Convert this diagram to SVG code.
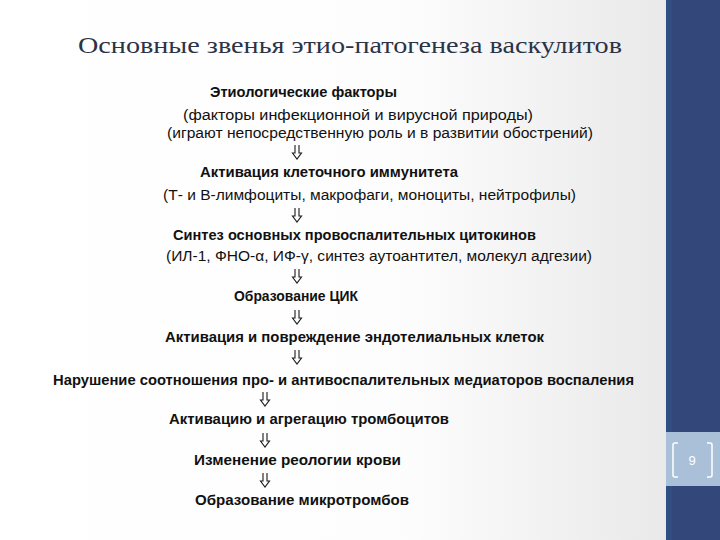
<svg xmlns="http://www.w3.org/2000/svg" width="720" height="540" viewBox="0 0 720 540">
<defs>
<linearGradient id="bg" x1="0" y1="0" x2="1" y2="0">
<stop offset="0" stop-color="#ffffff"/>
<stop offset="0.6" stop-color="#fdfdfd"/>
<stop offset="1" stop-color="#e9e9ea"/>
</linearGradient>
<style>
.t{font-family:"Liberation Sans",Arial,sans-serif;font-size:14px;fill:#111;}
.b{font-weight:bold;}
.title{font-family:"Liberation Serif","Times New Roman",serif;font-size:24px;fill:#2b3347;}
.arr{fill:none;stroke:#1a1a1a;stroke-width:1.1;}
</style>
</defs>
<rect x="0" y="0" width="666" height="540" fill="url(#bg)"/>
<rect x="666" y="0" width="54" height="540" fill="#34477a"/>
<rect x="666" y="0" width="6" height="540" fill="#2f4f82"/>
<rect x="666" y="432" width="54" height="54" fill="#a9c0d8"/>
<path d="M678,443 h-3 q-2,0 -2,2 v30 q0,2 2,2 h3 M707,443 h3 q2,0 2,2 v30 q0,2 -2,2 h-3" fill="none" stroke="#ffffff" stroke-width="1.5"/>
<text x="692" y="465" text-anchor="middle" style="font-family:'Liberation Sans',Arial,sans-serif;font-size:13px;fill:#ffffff">9</text>

<text id="title" class="title" x="78" y="53" textLength="544" lengthAdjust="spacingAndGlyphs">Основные звенья этио-патогенеза васкулитов</text>

<g id="n1">
<text class="t b" x="210" y="97" textLength="187" lengthAdjust="spacingAndGlyphs">Этиологические факторы</text>
<text class="t" x="183" y="120" textLength="350" lengthAdjust="spacingAndGlyphs">(факторы инфекционной и вирусной природы)</text>
<text class="t" x="167" y="138" textLength="426" lengthAdjust="spacingAndGlyphs">(играют непосредственную роль и в развитии обострений)</text>
</g>
<g id="n2">
<text class="t b" x="200" y="177" textLength="258" lengthAdjust="spacingAndGlyphs">Активация клеточного иммунитета</text>
<text class="t" x="163" y="200" textLength="413" lengthAdjust="spacingAndGlyphs">(Т- и В-лимфоциты, макрофаги, моноциты, нейтрофилы)</text>
</g>
<g id="n3">
<text class="t b" x="173" y="240" textLength="363" lengthAdjust="spacingAndGlyphs">Синтез основных провоспалительных цитокинов</text>
<text class="t" x="166" y="261" textLength="426" lengthAdjust="spacingAndGlyphs">(ИЛ-1, ФНО-α, ИФ-γ, синтез аутоантител, молекул адгезии)</text>
</g>
<g id="n4">
<text class="t b" x="234" y="301" textLength="124" lengthAdjust="spacingAndGlyphs">Образование ЦИК</text>
</g>
<g id="n5">
<text class="t b" x="165" y="342" textLength="379" lengthAdjust="spacingAndGlyphs">Активация и повреждение эндотелиальных клеток</text>
</g>
<g id="n6">
<text class="t b" x="53" y="385" textLength="581" lengthAdjust="spacingAndGlyphs">Нарушение соотношения про- и антивоспалительных медиаторов воспаления</text>
</g>
<g id="n7">
<text class="t b" x="169" y="424" textLength="280" lengthAdjust="spacingAndGlyphs">Активацию и агрегацию тромбоцитов</text>
</g>
<g id="n8">
<text class="t b" x="194" y="465" textLength="207" lengthAdjust="spacingAndGlyphs">Изменение реологии крови</text>
</g>
<g id="n9">
<text class="t b" x="195" y="505" textLength="214" lengthAdjust="spacingAndGlyphs">Образование микротромбов</text>
</g>

<g id="connectors" class="arr">
<path d="M295,145 v8 h-2.5 l4.5,6 l4.5,-6 h-2.5 v-8"/>
<path d="M295,208 v8 h-2.5 l4.5,6 l4.5,-6 h-2.5 v-8"/>
<path d="M295,269 v8 h-2.5 l4.5,6 l4.5,-6 h-2.5 v-8"/>
<path d="M295,310 v8 h-2.5 l4.5,6 l4.5,-6 h-2.5 v-8"/>
<path d="M295,350 v8 h-2.5 l4.5,6 l4.5,-6 h-2.5 v-8"/>
<path d="M263,392 v8 h-2.5 l4.5,6 l4.5,-6 h-2.5 v-8"/>
<path d="M263,433 v8 h-2.5 l4.5,6 l4.5,-6 h-2.5 v-8"/>
<path d="M263,473 v8 h-2.5 l4.5,6 l4.5,-6 h-2.5 v-8"/>
</g>
</svg>
